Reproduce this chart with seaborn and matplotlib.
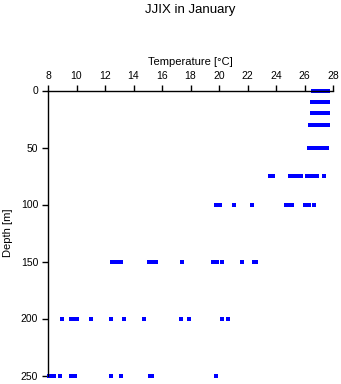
import matplotlib
matplotlib.use("Agg")
import matplotlib.pyplot as plt
import seaborn as sns
import pandas as pd

depths = [0, 10, 20, 30, 50, 75, 100, 150, 200, 250]
t0 = [26.6, 26.75, 26.9, 27.0, 27.2, 27.35, 27.5, 27.65]
t10 = [26.5, 26.65, 26.8, 26.95, 27.1, 27.25, 27.4, 27.55, 27.68]
t20 = [26.5, 26.65, 26.8, 26.95, 27.15, 27.3, 27.45, 27.6, 27.68]
t30 = [26.4, 26.7, 26.85, 27.0, 27.1, 27.25, 27.4, 27.55, 27.68]
t50 = [26.3, 26.45, 26.6, 26.75, 26.9, 27.0, 27.15, 27.3, 27.45, 27.6]
t75 = [23.6, 23.8, 25.0, 25.1, 25.4, 25.6, 25.75, 26.2, 26.35, 26.5, 26.65, 26.8, 26.9, 27.35, 27.4]
t100 = [19.8, 19.95, 20.1, 21.05, 22.3, 24.7, 24.85, 25.0, 25.15, 26.0, 26.2, 26.35, 26.7]
t150 = [12.5, 12.75, 12.95, 13.15, 15.1, 15.3, 15.55, 17.4, 19.6, 19.85, 20.2, 21.6, 22.45, 22.6]
t200 = [8.95, 9.6, 9.75, 9.9, 10.05, 11.05, 12.4, 13.35, 14.75, 17.35, 17.9, 20.2, 20.6]
t250 = [8.1, 8.25, 8.4, 8.85, 9.6, 9.75, 9.9, 12.4, 13.15, 15.15, 15.3, 19.8]
temps = [t0, t10, t20, t30, t50, t75, t100, t150, t200, t250]

xticks = [8, 10, 12, 14, 16, 18, 20, 22, 24, 26, 28]
yticks = [0, 50, 100, 150, 200, 250]

rows = []
for d, ts in zip(depths, temps):
    for t in ts:
        rows.append({"Temperature": t, "Depth": d})
df = pd.DataFrame(rows)

sns.set_style("ticks")
plt.rcParams["font.family"] = ["Liberation Sans", "DejaVu Sans"]
plt.rcParams["text.color"] = "black"
plt.rcParams["axes.labelcolor"] = "black"
plt.rcParams["xtick.color"] = "black"
plt.rcParams["ytick.color"] = "black"

fig = plt.figure(figsize=(3.41, 3.84), dpi=100)
ax = fig.add_axes([48 / 341, 1 - 375.5 / 384, (333 - 48) / 341, (375.5 - 90.5) / 384])

sns.scatterplot(data=df, x="Temperature", y="Depth", ax=ax, color="#0000ff",
                marker="s", s=5, linewidth=0, clip_on=False)

ax.set_xlim(8, 28)
ax.set_ylim(250, 0)
ax.set_xticks(xticks)
ax.set_yticks(yticks)
ax.xaxis.tick_top()
ax.xaxis.set_label_position("top")
ax.set_xlabel("Temperature [°C]", fontsize=8, labelpad=4, color="black")
ax.set_ylabel("Depth [m]", fontsize=8, labelpad=6, color="black")
ax.tick_params(axis="both", labelsize=7.5, length=4, width=1, color="black",
               labelcolor="black", pad=3)
for s in ["bottom", "right"]:
    ax.spines[s].set_visible(False)
for s in ["top", "left"]:
    ax.spines[s].set_linewidth(1)
    ax.spines[s].set_color("black")

fig.text((48 + 333) / 2 / 341, 1 - 10 / 384, "JJIX in January", ha="center", va="center",
         fontsize=9.5, color="black")

fig.savefig("out.png", dpi=100)
